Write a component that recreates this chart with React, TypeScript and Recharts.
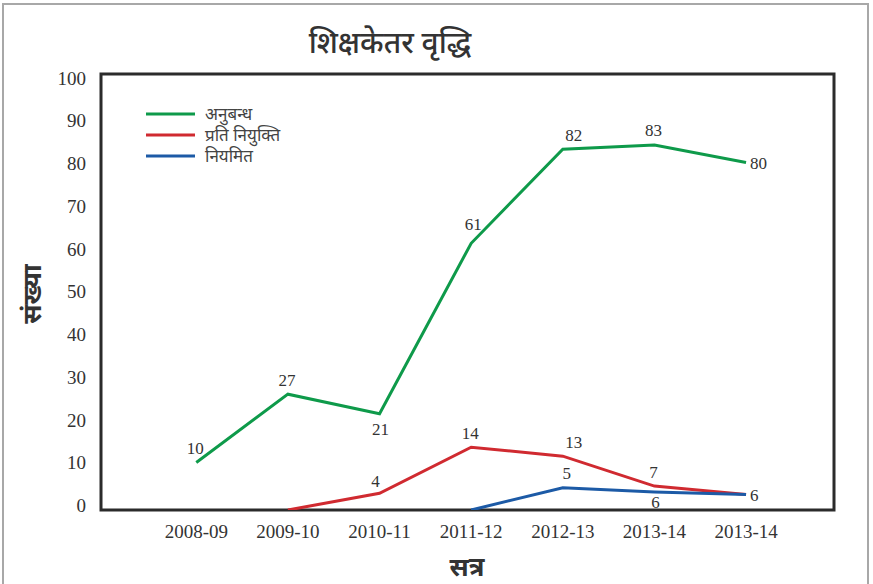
import React from 'react';
import { LineChart, Line, XAxis, YAxis, ReferenceArea, LabelList } from 'recharts';

const sessions = ['2008-09', '2009-10', '2010-11', '2011-12', '2012-13', '2013-14', '2013-14'];
const contractValues = [10, 26, 21.4, 61.3, 83.3, 84.3, 80.2];
const deputationValues = [null, -1.1, 2.8, 13.6, 11.5, 4.5, 2.5];
const regularValues = [null, null, null, -1.1, 4.1, 3.1, 2.5];
const contractLabels = ['10', '27', '21', '61', '82', '83', '80'];
const deputationLabels = ['', '', '4', '14', '13', '7', '6'];
const regularLabels = ['', '', '', '', '5', '6', ''];
const contractPlacement = ['above', 'above', 'below', 'aboveHigh', 'aboveRight', 'above', 'right'];
const deputationPlacement = ['', '', 'aboveLeft', 'above', 'aboveRight', 'above', 'right'];
const regularPlacement = ['', '', '', '', 'aboveRightSmall', 'belowClose', ''];
const seriesNames = ['अनुबन्ध', 'प्रति नियुक्ति', 'नियमित'];
const seriesColors = ['#0e9a4a', '#d02a30', '#1c5aa6'];
const yTicks = [0, 10, 20, 30, 40, 50, 60, 70, 80, 90, 100];
const xTicks = [0, 1, 2, 3, 4, 5, 6];
const titleText = 'शिक्षकेतर वृद्धि';
const yTitle = 'संख्या';
const xTitle = 'सत्र';

const X_DOMAIN: [number, number] = [-1.04, 6.96];
const Y_DOMAIN: [number, number] = [-1.1, 100.9];

const data = sessions.map((s, i) => ({
  idx: i,
  session: s,
  contract: contractValues[i],
  deputation: deputationValues[i],
  regular: regularValues[i],
  contractLabel: contractLabels[i],
  deputationLabel: deputationLabels[i],
  regularLabel: regularLabels[i],
  contractPos: contractPlacement[i],
  deputationPos: deputationPlacement[i],
  regularPos: regularPlacement[i],
}));

const DEV = "'Noto Sans', 'Noto Sans Devanagari', 'Lohit Devanagari', sans-serif";
const SERIF = "'Liberation Serif', 'DejaVu Serif', serif";

const offsets: Record<string, { dx: number; dy: number; anchor: string }> = {
  above: { dx: -1, dy: -14, anchor: 'middle' },
  aboveHigh: { dx: 2, dy: -19, anchor: 'middle' },
  aboveLeft: { dx: -4, dy: -12, anchor: 'middle' },
  aboveRight: { dx: 11, dy: -14, anchor: 'middle' },
  aboveRightSmall: { dx: 4, dy: -14, anchor: 'middle' },
  below: { dx: 1, dy: 16, anchor: 'middle' },
  belowClose: { dx: 1, dy: 10, anchor: 'middle' },
  right: { dx: 4, dy: 1, anchor: 'start' },
};

const makeLabel = (posKey: string) => (props: any) => {
  const { x, y, value, index } = props;
  if (!value) return null;
  const pos = (data[index] as any)[posKey];
  const o = offsets[pos] || offsets.above;
  return (
    <text
      x={x + o.dx}
      y={y + o.dy}
      textAnchor={o.anchor}
      dominantBaseline="central"
      fontFamily={SERIF}
      fontSize={17}
      fill="#333"
    >
      {value}
    </text>
  );
};

export default function App() {
  return (
    <div
      style={{
        position: 'absolute',
        left: 0,
        top: 0,
        width: 873,
        height: 584,
        overflow: 'hidden',
        background: '#fff',
      }}
    >
      <div
        style={{
          position: 'absolute',
          left: 2,
          top: 3,
          width: 863,
          height: 640,
          border: '2px solid #a8a8a8',
        }}
      />
      <LineChart
        width={873}
        height={584}
        data={data}
        margin={{ top: 74, right: 39, bottom: 34, left: 41 }}
        style={{ position: 'absolute', left: 0, top: 0 }}
      >
        <XAxis
          dataKey="idx"
          type="number"
          domain={X_DOMAIN}
          ticks={xTicks}
          interval={0}
          allowDataOverflow
          tickFormatter={(v: number) => sessions[v]}
          axisLine={false}
          tickLine={false}
          tickSize={0}
          tickMargin={15}
          height={40}
          tick={{ fontFamily: SERIF, fontSize: 19, fill: '#333' }}
        />
        <YAxis
          type="number"
          domain={Y_DOMAIN}
          ticks={yTicks}
          interval={0}
          allowDataOverflow
          axisLine={false}
          tickLine={false}
          tickSize={0}
          tickMargin={15}
          width={60}
          tick={{ fontFamily: SERIF, fontSize: 19, fill: '#333' }}
        />
        <Line
          type="linear"
          dataKey="contract"
          name={seriesNames[0]}
          stroke={seriesColors[0]}
          strokeWidth={3}
          dot={false}
          activeDot={false}
          isAnimationActive={false}
        >
          <LabelList dataKey="contractLabel" content={makeLabel('contractPos')} />
        </Line>
        <Line
          type="linear"
          dataKey="deputation"
          name={seriesNames[1]}
          stroke={seriesColors[1]}
          strokeWidth={3}
          dot={false}
          activeDot={false}
          isAnimationActive={false}
        >
          <LabelList dataKey="deputationLabel" content={makeLabel('deputationPos')} />
        </Line>
        <Line
          type="linear"
          dataKey="regular"
          name={seriesNames[2]}
          stroke={seriesColors[2]}
          strokeWidth={3}
          dot={false}
          activeDot={false}
          isAnimationActive={false}
        >
          <LabelList dataKey="regularLabel" content={makeLabel('regularPos')} />
        </Line>
        <ReferenceArea
          x1={X_DOMAIN[0]}
          x2={X_DOMAIN[1]}
          y1={Y_DOMAIN[0]}
          y2={Y_DOMAIN[1]}
          fill="none"
          fillOpacity={0}
          stroke="#2b2b2b"
          strokeWidth={3}
          ifOverflow="visible"
        />
      </LineChart>
      <div
        style={{
          position: 'absolute',
          left: 146,
          top: 103,
          fontFamily: DEV,
          fontSize: 17,
          color: '#444',
        }}
      >
        {seriesNames.map((name, i) => (
          <div key={i} style={{ display: 'flex', alignItems: 'center', height: 21 }}>
            <svg width={49} height={4} style={{ display: 'block' }}>
              <line x1={0} y1={2} x2={49} y2={2} stroke={seriesColors[i]} strokeWidth={3} />
            </svg>
            <span style={{ marginLeft: 10, lineHeight: '21px', whiteSpace: 'nowrap' }}>{name}</span>
          </div>
        ))}
      </div>
      <div
        style={{
          position: 'absolute',
          left: 390,
          top: 42,
          transform: 'translate(-50%, -50%)',
          fontFamily: DEV,
          fontSize: 30,
          fontWeight: 500,
          lineHeight: '36px',
          color: '#333',
          whiteSpace: 'nowrap',
        }}
      >
        {titleText}
      </div>
      <div
        style={{
          position: 'absolute',
          left: 31,
          top: 294,
          transform: 'translate(-50%, -50%) rotate(-90deg)',
          fontFamily: DEV,
          fontSize: 26,
          fontWeight: 700,
          lineHeight: '30px',
          color: '#333',
          whiteSpace: 'nowrap',
        }}
      >
        {yTitle}
      </div>
      <div
        style={{
          position: 'absolute',
          left: 467,
          top: 566,
          transform: 'translate(-50%, -50%)',
          fontFamily: DEV,
          fontSize: 26,
          fontWeight: 700,
          lineHeight: '28px',
          color: '#333',
          whiteSpace: 'nowrap',
        }}
      >
        {xTitle}
      </div>
    </div>
  );
}
